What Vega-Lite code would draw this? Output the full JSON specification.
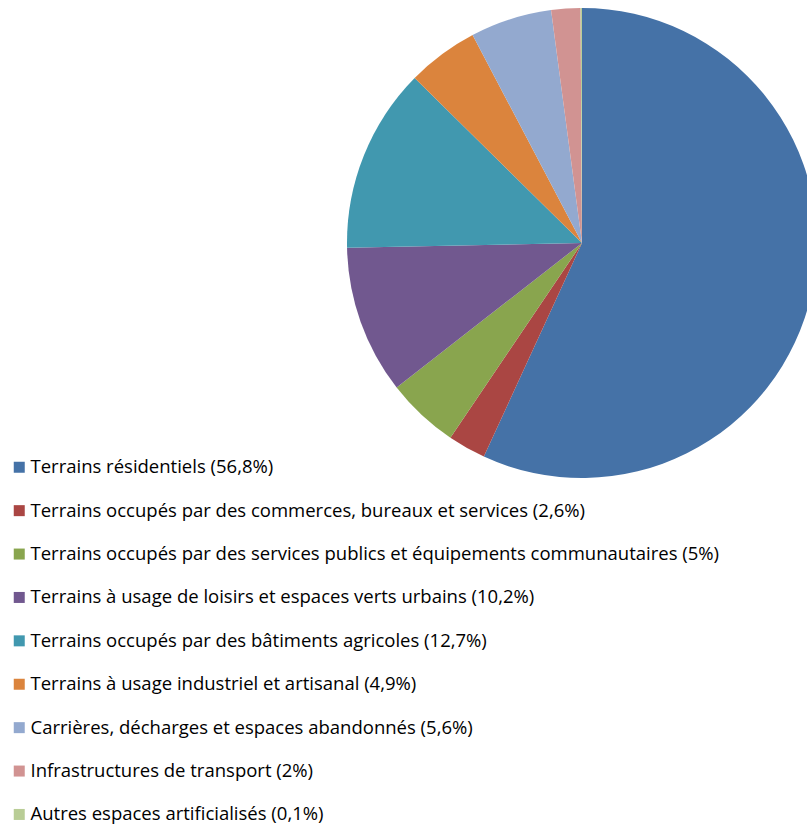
{
  "$schema": "https://vega.github.io/schema/vega-lite/v6.json",
  "width": 807,
  "height": 825,
  "padding": 0,
  "autosize": {"type": "none"},
  "background": "white",
  "config": {"view": {"stroke": null}},
  "data": {
    "values": [
      {"ordre": 1, "categorie": "Terrains résidentiels (56,8%)", "part": 56.8},
      {"ordre": 2, "categorie": "Terrains occupés par des commerces, bureaux et services (2,6%)", "part": 2.6},
      {"ordre": 3, "categorie": "Terrains occupés par des services publics et équipements communautaires (5%)", "part": 5},
      {"ordre": 4, "categorie": "Terrains à usage de loisirs et espaces verts urbains (10,2%)", "part": 10.2},
      {"ordre": 5, "categorie": "Terrains occupés par des bâtiments agricoles (12,7%)", "part": 12.7},
      {"ordre": 6, "categorie": "Terrains à usage industriel et artisanal (4,9%)", "part": 4.9},
      {"ordre": 7, "categorie": "Carrières, décharges et espaces abandonnés (5,6%)", "part": 5.6},
      {"ordre": 8, "categorie": "Infrastructures de transport (2%)", "part": 2},
      {"ordre": 9, "categorie": "Autres espaces artificialisés (0,1%)", "part": 0.1}
    ]
  },
  "mark": {"type": "arc", "x": 582, "y": 243, "outerRadius": 235},
  "encoding": {
    "theta": {"field": "part", "type": "quantitative", "stack": true},
    "order": {"field": "ordre", "type": "quantitative", "sort": "ascending"},
    "color": {
      "field": "categorie",
      "type": "nominal",
      "sort": null,
      "scale": {
        "domain": [
          "Terrains résidentiels (56,8%)",
          "Terrains occupés par des commerces, bureaux et services (2,6%)",
          "Terrains occupés par des services publics et équipements communautaires (5%)",
          "Terrains à usage de loisirs et espaces verts urbains (10,2%)",
          "Terrains occupés par des bâtiments agricoles (12,7%)",
          "Terrains à usage industriel et artisanal (4,9%)",
          "Carrières, décharges et espaces abandonnés (5,6%)",
          "Infrastructures de transport (2%)",
          "Autres espaces artificialisés (0,1%)"
        ],
        "range": ["#4572A7", "#AA4643", "#89A54E", "#71588F", "#4198AF", "#DB843D", "#93A9CF", "#D19392", "#B9CD96"]
      },
      "legend": {
        "title": null,
        "orient": "none",
        "legendX": 10,
        "legendY": 458,
        "symbolType": "square",
        "symbolSize": 121,
        "symbolStrokeWidth": 0,
        "labelFont": "Open Sans",
        "labelFontSize": 18.5,
        "labelColor": "#000000",
        "labelLimit": 800,
        "labelOffset": 2,
        "rowPadding": 24.4,
        "padding": 0
      }
    }
  }
}
